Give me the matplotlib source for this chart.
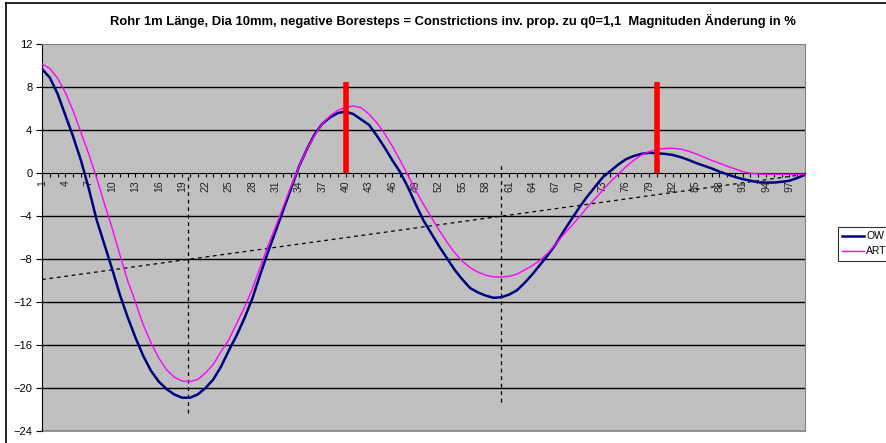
import numpy as np
import matplotlib.pyplot as plt
from matplotlib.lines import Line2D

plt.rcParams['font.family'] = ['Liberation Sans', 'DejaVu Sans']

# Messpunkte 1..99
steps = list(range(1, 100))
ow = [9.7, 8.9, 7.4, 5.4, 3.4, 1.2, -1.4, -4.3, -6.6, -8.9,
      -11.3, -13.4, -15.3, -17.0, -18.4, -19.4, -20.1, -20.6, -20.9, -20.9,
      -20.6, -20.0, -19.2, -18.0, -16.5, -15.1, -13.5, -11.7, -9.5, -7.4,
      -5.4, -3.4, -1.4, 0.6, 2.2, 3.6, 4.6, 5.2, 5.6, 5.75,
      5.5, 5.0, 4.5, 3.5, 2.4, 1.2, 0.1, -1.3, -2.9, -4.4,
      -5.6, -6.8, -7.9, -9.0, -9.9, -10.7, -11.1, -11.4, -11.6, -11.55,
      -11.3, -10.9, -10.2, -9.4, -8.5, -7.6, -6.6, -5.4, -4.3, -3.2,
      -2.2, -1.3, -0.4, 0.2, 0.8, 1.3, 1.6, 1.8, 1.9, 1.85,
      1.8, 1.7, 1.5, 1.25, 0.95, 0.7, 0.45, 0.15, -0.1, -0.35,
      -0.55, -0.7, -0.85, -0.87, -0.87, -0.8, -0.7, -0.45, -0.15]
art = [10.17, 9.75, 8.85, 7.5, 5.8, 3.8, 1.8, -0.4, -2.8, -5.1,
       -7.6, -10.0, -12.0, -14.1, -15.8, -17.2, -18.3, -19.0, -19.35, -19.4,
       -19.2, -18.6, -17.8, -16.6, -15.5, -14.0, -12.5, -10.8, -8.8, -6.8,
       -5.0, -3.1, -1.2, 0.6, 2.2, 3.5, 4.6, 5.35, 5.85, 6.15,
       6.25, 6.1, 5.5, 4.7, 3.7, 2.5, 1.2, -0.2, -1.6, -2.9,
       -4.1, -5.3, -6.4, -7.4, -8.2, -8.8, -9.2, -9.5, -9.65, -9.67,
       -9.6, -9.4, -9.0, -8.6, -8.1, -7.4, -6.6, -5.7, -4.9, -4.1,
       -3.2, -2.4, -1.6, -0.8, -0.1, 0.6, 1.2, 1.7, 2.0, 2.2,
       2.3, 2.32, 2.25, 2.05, 1.8, 1.5, 1.2, 0.93, 0.65, 0.4,
       0.15, 0.0, -0.08, -0.1, -0.1, -0.1, -0.1, -0.1, -0.1]

# rote Marker (Boresteps)
marker_x = [40, 80]
marker_top = 8.5

# eingezeichnete Hilfslinien
trend_x = [1, 99]
trend_y = [-9.9, -0.1]
guide_x = [19.75, 60]
guide_top = [0.0, 0.9]
guide_bottom = [-22.3, -21.3]

title = 'Rohr 1m Länge, Dia 10mm, negative Boresteps = Constrictions inv. prop. zu q0=1,1  Magnituden Änderung in %'

fig = plt.figure(figsize=(8.87, 4.43), dpi=100)
ax = fig.add_axes([42 / 887, 1 - 431 / 443, (805 - 42) / 887, (431 - 44.3) / 443])
ax.set_facecolor('#C0C0C0')

ax.set_ylim(-24, 12)
ax.set_xlim(1, 99)
ax.set_yticks(np.arange(-24, 13, 4))
for g in np.arange(-20, 12, 4):
    if g != 0:
        ax.axhline(g, color='black', lw=1, zorder=1)

ax.plot(trend_x, trend_y, color='black', lw=0.9, ls=(0, (3, 3)), zorder=2)
ax.vlines(guide_x, guide_bottom, guide_top, color='black', lw=0.9, ls=(0, (3, 3)), zorder=2)

l1, = ax.plot(steps, ow, color='#000080', lw=1.8, zorder=3, label='OW')
l2, = ax.plot(steps, art, color='#FF00FF', lw=1.0, zorder=3, label='ART')

ax.vlines(marker_x, 0, marker_top, color='#FF0000', lw=4, zorder=4)

ax.set_xticks(steps)
ax.set_xticklabels([str(s) if (s - 1) % 3 == 0 else '' for s in steps])
ax.tick_params(axis='x', direction='out', length=3, pad=2, width=0.8,
               labelrotation=90, labelsize=7.5, labelcolor='#202020')
ax.tick_params(axis='y', direction='out', length=4, pad=3, labelsize=8)

ax.spines['bottom'].set_position(('data', 0))
ax.spines['bottom'].set_color('black')
ax.spines['left'].set_color('black')
for s in ['top', 'right']:
    ax.spines[s].set_color('#808080')
ax.add_line(Line2D([0, 1], [0, 0], transform=ax.transAxes, color='#808080', lw=1.2, clip_on=False))

fig.text(453 / 887, 1 - 21 / 443, title, ha='center', va='center', fontsize=9.4, fontweight='bold')

leg = fig.legend(handles=[l1, l2], loc='upper left', bbox_to_anchor=(838 / 887, 1 - 227 / 443),
                 fontsize=7.5, frameon=True, fancybox=False, handlelength=2.1, handletextpad=0.2,
                 borderpad=0.4, labelspacing=0.5, borderaxespad=0)
leg.get_frame().set_edgecolor('black')
leg.get_frame().set_linewidth(0.8)

# Rahmen des Diagrammbereichs
fig.add_artist(Line2D([6 / 887, 6 / 887], [0, 1 - 3 / 443], transform=fig.transFigure, color='black', lw=1.2))
fig.add_artist(Line2D([6 / 887, 1], [1 - 3 / 443, 1 - 3 / 443], transform=fig.transFigure, color='black', lw=1.2))

fig.savefig('out.png', dpi=100)
